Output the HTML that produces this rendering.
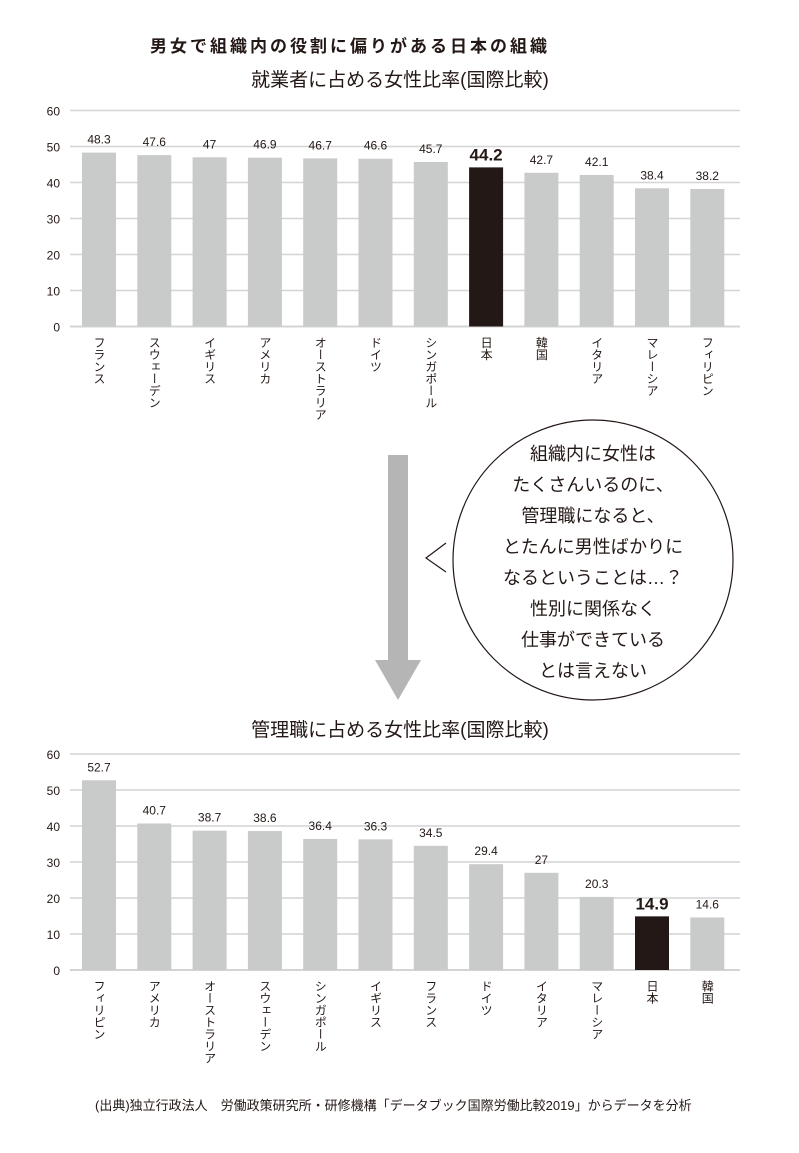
<!DOCTYPE html>
<html><head><meta charset="utf-8"><style>
body{margin:0;background:#fff;}
svg text{font-family:"Liberation Sans","Noto Sans CJK JP",sans-serif;}
</style></head><body>
<svg width="799" height="1148" viewBox="0 0 799 1148" xmlns="http://www.w3.org/2000/svg">
<text x="350" y="52" text-anchor="middle" font-size="17" font-weight="bold" letter-spacing="3" fill="#231815">男女で組織内の役割に偏りがある日本の組織</text>
<text x="400" y="86" text-anchor="middle" font-size="19" fill="#231815">就業者に占める女性比率(国際比較)</text>
<g id="c1"></g>
<g>
<rect x="388" y="455" width="20" height="205" fill="#b5b5b6"/>
<polygon points="375,660 421,660 398,700" fill="#b5b5b6"/>
</g>
<g>
<circle cx="593" cy="560" r="140" fill="#fff" stroke="#231815" stroke-width="1.2"/>
<polyline points="446,543 426,558 446,572" fill="none" stroke="#231815" stroke-width="1.2"/>
<g font-size="18" fill="#231815" text-anchor="middle">
<text x="593" y="460">組織内に女性は</text>
<text x="593" y="491">たくさんいるのに、</text>
<text x="593" y="522">管理職になると、</text>
<text x="593" y="553">とたんに男性ばかりに</text>
<text x="593" y="584">なるということは…？</text>
<text x="593" y="615">性別に関係なく</text>
<text x="593" y="646">仕事ができている</text>
<text x="593" y="677">とは言えない</text>
</g></g>
<text x="400" y="736" text-anchor="middle" font-size="19" fill="#231815">管理職に占める女性比率(国際比較)</text>
<g id="c2"></g>
<text x="95" y="1110" font-size="13" fill="#231815">(出典)独立行政法人　労働政策研究所・研修機構「データブック国際労働比較2019」からデータを分析</text>
</svg>
<script>
const cats1=["フランス","スウェーデン","イギリス","アメリカ","オーストラリア","ドイツ","シンガポール","日本","韓国","イタリア","マレーシア","フィリピン"];
const vals1=[48.3,47.6,47,46.9,46.7,46.6,45.7,44.2,42.7,42.1,38.4,38.2];
const cats2=["フィリピン","アメリカ","オーストラリア","スウェーデン","シンガポール","イギリス","フランス","ドイツ","イタリア","マレーシア","日本","韓国"];
const vals2=[52.7,40.7,38.7,38.6,36.4,36.3,34.5,29.4,27,20.3,14.9,14.6];
const ticks=[0,10,20,30,40,50,60];
const NS="http://www.w3.org/2000/svg";
function mk(t,a,p){const e=document.createElementNS(NS,t);for(const k in a)e.setAttribute(k,a[k]);p.appendChild(e);return e;}
function draw(gid,cats,vals,y0){
  const g=document.getElementById(gid);
  const y=v=>y0-v*3.6;
  const x=i=>82+i*55.3;
  ticks.forEach(t=>{
    const l=mk('line',{x1:70,x2:740,y1:y(t),y2:y(t),stroke:'#d4d4d5','stroke-width':t===0?2:1.5},g);
    
    
    const tx=mk('text',{x:60,y:y(t)+5,'text-anchor':'end','font-size':12,fill:'#231815'},g);
    tx.textContent=t;
    
    
  });
  vals.forEach((v,i)=>{
    const jp=cats[i]==="日本";
    const r=mk('rect',{x:x(i),y:y(v),width:34,height:v*3.6,fill:jp?'#231815':'#c9caca'},g);
    
    
    const vt=mk('text',{x:x(i)+17,y:y(v)-(jp?7:9),'text-anchor':'middle','font-size':jp?17:12,'font-weight':jp?'bold':'normal',fill:'#231815'},g);
    vt.textContent=v;
    
    
    const ct=mk('text',{x:x(i)+17,y:y0+10,'font-size':12,fill:'#231815','writing-mode':'vertical-rl','style':'writing-mode:vertical-rl;text-orientation:upright'},g);
    ct.textContent=cats[i];
    
    
  });
}
draw('c1',cats1,vals1,326.5);
draw('c2',cats2,vals2,970);
</script>
</body></html>
